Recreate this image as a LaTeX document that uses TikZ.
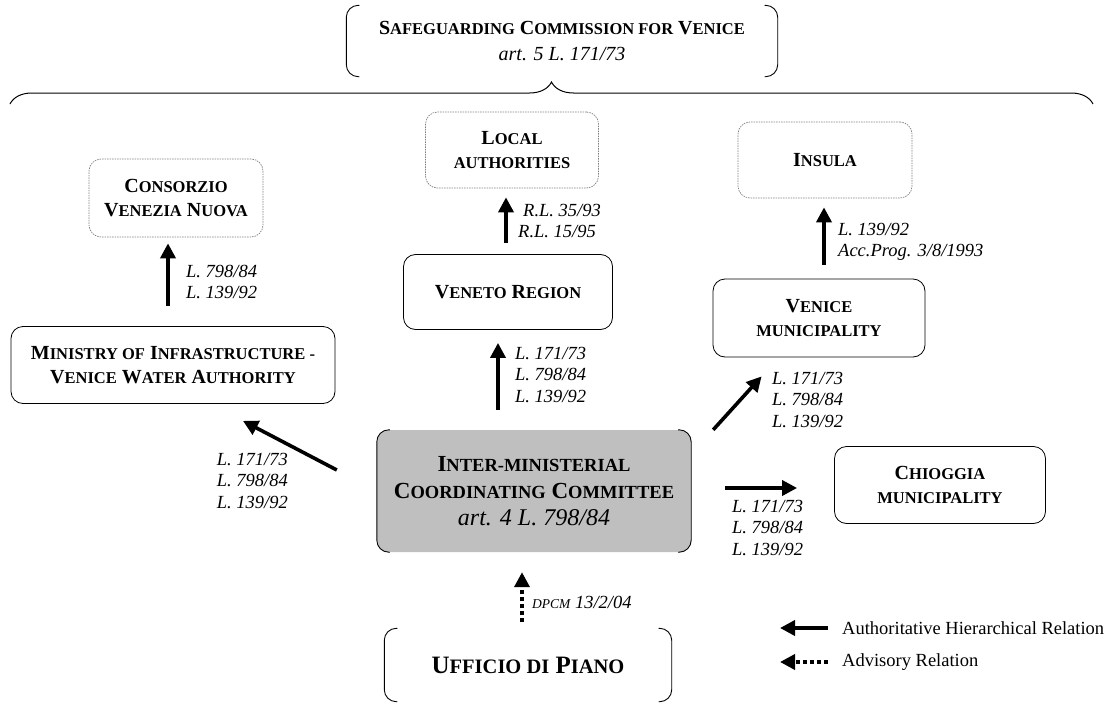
\documentclass[tikz,border=0pt]{standalone}
\usepackage{fontspec}
\setmainfont{Liberation Serif}
\usetikzlibrary{arrows.meta,decorations.pathreplacing}

% fake small caps: the size is set by the node font
\newcommand{\sm}[1]{{\fontsize{\smsz}{\smsz}\selectfont #1}}
% left and right brackets round a node
\newcommand{\bracketbox}[1]{%
  \draw[rounded corners=12pt,line width=0.9pt] ([xshift=13pt]#1.north west) -- (#1.north west) -- (#1.south west) -- ([xshift=13pt]#1.south west);
  \draw[rounded corners=12pt,line width=0.9pt] ([xshift=-13pt]#1.north east) -- (#1.north east) -- (#1.south east) -- ([xshift=-13pt]#1.south east);}

\tikzset{
  unit/.style={draw,rounded corners=12pt,line width=0.8pt,align=center,inner sep=0pt,
    font=\fontsize{20}{24}\selectfont\bfseries\def\smsz{16.5}},
  unitdot/.style={unit,draw=gray,dash pattern=on 1.5pt off 1pt,line width=0.7pt},
  bigunit/.style={align=center,inner sep=0pt,
    font=\fontsize{23}{27}\selectfont\bfseries\def\smsz{18.5}},
  law/.style={align=left,inner sep=0pt,font=\fontsize{18.5}{21.5}\selectfont\itshape},
  rel/.style={line width=3.6pt,-{Triangle[length=15pt,width=15pt]}},
  advrel/.style={rel,dash pattern=on 4pt off 3pt},
}

\begin{document}
\begin{tikzpicture}[x=1pt,y=-1pt]
\useasboundingbox (0,0) rectangle (1109,704);

% commission on top
\node[bigunit,minimum width=431pt,minimum height=71pt,font=\fontsize{20}{26}\selectfont\bfseries\def\smsz{16.5}] (comm) at (562,41)
  {S\sm{AFEGUARDING} C\sm{OMMISSION FOR} V\sm{ENICE}\\ \mdseries\itshape art. 5 L. 171/73};
\bracketbox{comm}
\draw[decorate,decoration={brace,amplitude=22pt},line width=1pt] (10,104) -- (1093,104);

% bodies
\node[unitdot,minimum width=174pt,minimum height=78pt] (cvn) at (176,198) {C\sm{ONSORZIO}\\V\sm{ENEZIA} N\sm{UOVA}};
\node[unitdot,minimum width=173pt,minimum height=76pt] (local) at (512,150) {L\sm{OCAL}\\\sm{AUTHORITIES}};
\node[unitdot,minimum width=174pt,minimum height=76pt] (insula) at (825,160) {I\sm{NSULA}};
\node[unit,minimum width=209pt,minimum height=75pt] (veneto) at (508,292) {V\sm{ENETO} R\sm{EGION}};
\node[unit,minimum width=212pt,minimum height=78pt] (venice) at (819,318) {V\sm{ENICE}\\\sm{MUNICIPALITY}};
\node[unit,minimum width=324pt,minimum height=77pt] (ministry) at (173,365) {M\sm{INISTRY OF} I\sm{NFRASTRUCTURE -}\\V\sm{ENICE} W\sm{ATER} A\sm{UTHORITY}};
\node[unit,minimum width=211pt,minimum height=77pt] (chioggia) at (940,485) {C\sm{HIOGGIA}\\\sm{MUNICIPALITY}};

\fill[gray!50,rounded corners=12pt] (377,430) rectangle (691,552);
\node[bigunit,minimum width=314pt,minimum height=122pt] (inter) at (534,491)
  {I\sm{NTER-MINISTERIAL}\\C\sm{OORDINATING} C\sm{OMMITTEE}\\{\mdseries\itshape\fontsize{24}{27}\selectfont art. 4 L. 798/84}};
\bracketbox{inter}

\node[bigunit,minimum width=287pt,minimum height=73pt,font=\fontsize{25}{29}\selectfont\bfseries\def\smsz{20.5}] (ufficio) at (528,665) {U\sm{FFICIO DI} P\sm{IANO}};
\bracketbox{ufficio}

% relations
\draw[rel] ([xshift=-5pt]ministry.north) -- ([xshift=-8pt]cvn.south) [shorten <=20pt,shorten >=6pt];
\draw[rel,shorten <=11pt,shorten >=9pt] ([xshift=-2pt]veneto.north) -- ([xshift=-6pt]local.south);
\draw[rel,shorten <=14pt,shorten >=9pt] ([xshift=5pt]venice.north) -- ([xshift=-1pt]insula.south);
\draw[rel,shorten <=20pt,shorten >=13pt] ([xshift=-36pt]inter.north) -- ([xshift=-10pt]veneto.south);
\draw[rel] ([shift={(-40,-21)}]inter.west) -- ([shift={(70,17)}]ministry.south);
\draw[rel] ([shift={(22,0)}]inter.north east) -- ([shift={(49,19)}]venice.south west);
\draw[rel] ([shift={(34,-3)}]inter.east) -- ([shift={(-37,3)}]chioggia.west);
\draw[advrel] ([shift={(-6,-6)}]ufficio.north) -- ([shift={(-12,20)}]inter.south);

% laws on the relations
\node[law,anchor=west] (lcvn) at (186,282) {L. 798/84\\L. 139/92};
\node[law,anchor=west] (llocal) at (518,221) {\hspace*{5pt}R.L. 35/93\\R.L. 15/95};
\node[law,anchor=west] (linsula) at (838,242) {L. 139/92\\Acc.Prog. 3/8/1993};
\node[law,anchor=west] (lveneto) at (515,375) {L. 171/73\\L. 798/84\\L. 139/92};
\node[law,anchor=east] (lministry) at (288,481) {L. 171/73\\L. 798/84\\L. 139/92};
\node[law,anchor=west] (lvenice) at (772,400) {L. 171/73\\L. 798/84\\L. 139/92};
\node[law,anchor=west] (lchioggia) at (732,528) {L. 171/73\\L. 798/84\\L. 139/92};
\node[law,anchor=west] (lufficio) at (532,602) {{\fontsize{13.5}{16}\selectfont DPCM} 13/2/04};

% legend
\node[anchor=west,inner sep=0pt,font=\fontsize{18.5}{22}\selectfont] (legauth) at (842,628) {Authoritative Hierarchical Relation};
\node[anchor=west,inner sep=0pt,font=\fontsize{18.5}{22}\selectfont] (legadv) at (842,662) {Advisory Relation};
\draw[rel] ([xshift=-14pt]legauth.west) -- ++(-48,0);
\draw[advrel] ([xshift=-14pt]legadv.west) -- ++(-48,0);
\end{tikzpicture}
\end{document}
